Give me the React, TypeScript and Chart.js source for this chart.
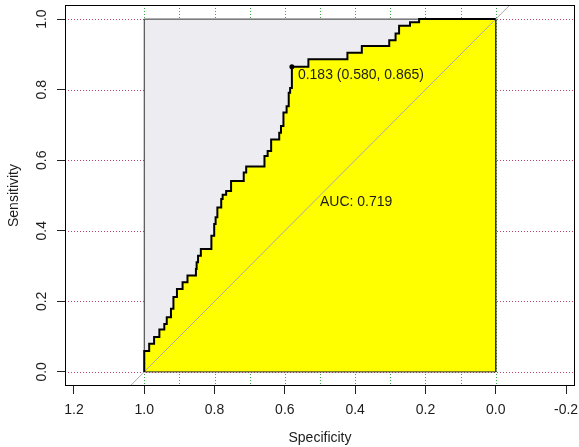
import React, { useEffect, useRef } from 'react';
import { Chart, registerables } from 'chart.js';

Chart.register(...registerables);

// ROC curve points (specificity, sensitivity); drawn as a staircase (horizontal then vertical)
const ROC_SPECIFICITY = [
  1.0, 1.0, 0.986, 0.972, 0.957, 0.943, 0.936, 0.924, 0.917, 0.907, 0.891, 0.877,
  0.853, 0.851, 0.847, 0.839, 0.809, 0.801, 0.797, 0.792, 0.781, 0.777, 0.767, 0.753,
  0.717, 0.71, 0.658, 0.649, 0.639, 0.616, 0.611, 0.604, 0.595, 0.589, 0.585, 0.58,
  0.533, 0.422, 0.381, 0.303, 0.285, 0.275, 0.244, 0.218, 0.0,
];
const ROC_SENSITIVITY = [
  0.0, 0.059, 0.08, 0.099, 0.12, 0.136, 0.155, 0.179, 0.212, 0.235, 0.254, 0.273,
  0.292, 0.311, 0.329, 0.348, 0.386, 0.419, 0.438, 0.466, 0.49, 0.502, 0.513, 0.541,
  0.565, 0.582, 0.612, 0.626, 0.659, 0.678, 0.697, 0.735, 0.753, 0.791, 0.805, 0.865,
  0.886, 0.905, 0.924, 0.94, 0.959, 0.981, 0.991, 1.0, 1.0,
];

// Max-AUC polygon (unit square)
const MAX_AUC_SPECIFICITY = [1, 1, 0, 0, 1];
const MAX_AUC_SENSITIVITY = [0, 1, 1, 0, 0];

// Best threshold
const BEST_THRESHOLD = 0.183;
const BEST_SPECIFICITY = 0.58;
const BEST_SENSITIVITY = 0.865;

const AUC_VALUE = 0.719;
const AUC_LABEL_SPECIFICITY = 0.5;
const AUC_LABEL_SENSITIVITY = 0.48;

// Axes
const X_TICKS = [1.2, 1.0, 0.8, 0.6, 0.4, 0.2, 0.0, -0.2];
const Y_TICKS = [0.0, 0.2, 0.4, 0.6, 0.8, 1.0];
const V_GRID = [1.0, 0.9, 0.8, 0.7, 0.6, 0.5, 0.4, 0.3, 0.2, 0.1, 0.0];
const H_GRID = [0.0, 0.2, 0.4, 0.6, 0.8, 1.0];
const X_MIN = -0.2255;
const X_MAX = 1.2255;
const Y_MIN = -0.04;
const Y_MAX = 1.04;

const FONT_FAMILY = '"Liberation Sans", Arial, Helvetica, sans-serif';
const TEXT_COLOR = '#1c1c1c';

export default function App() {
  const ref = useRef<HTMLCanvasElement>(null);

  useEffect(() => {
    const canvas = ref.current;
    if (!canvas) return;

    const pts = (xs: number[], ys: number[]) => xs.map((x, i) => ({ x, y: ys[i] }));

    const decor = {
      id: 'rocDecor',
      beforeDatasetsDraw(chart: any) {
        const { ctx, chartArea: a, scales } = chart;
        const xs = scales.x;
        const ys = scales.y;
        ctx.save();
        ctx.lineWidth = 1;
        ctx.setLineDash([1, 2]);
        ctx.strokeStyle = '#b8486a';
        H_GRID.forEach((v) => {
          const py = Math.round(ys.getPixelForValue(v)) + 0.5;
          ctx.beginPath();
          ctx.moveTo(a.left, py);
          ctx.lineTo(a.right, py);
          ctx.stroke();
        });
        ctx.strokeStyle = '#3fa346';
        V_GRID.forEach((v) => {
          const px = Math.round(xs.getPixelForValue(v)) + 0.5;
          ctx.beginPath();
          ctx.moveTo(px, a.top);
          ctx.lineTo(px, a.bottom);
          ctx.stroke();
        });
        ctx.restore();
      },
      afterDatasetsDraw(chart: any) {
        const { ctx, chartArea: a, scales } = chart;
        const xs = scales.x;
        const ys = scales.y;
        ctx.save();
        ctx.strokeStyle = '#000';
        ctx.lineWidth = 1;
        ctx.setLineDash([]);
        ctx.strokeRect(a.left + 0.5, a.top + 0.5, a.right - a.left - 1, a.bottom - a.top - 1);

        ctx.font = `14px ${FONT_FAMILY}`;
        ctx.fillStyle = TEXT_COLOR;
        ctx.textAlign = 'left';
        ctx.textBaseline = 'middle';
        const thrText = `${BEST_THRESHOLD.toFixed(3)} (${BEST_SPECIFICITY.toFixed(3)}, ${BEST_SENSITIVITY.toFixed(3)})`;
        ctx.fillText(
          thrText,
          xs.getPixelForValue(BEST_SPECIFICITY) + 6,
          ys.getPixelForValue(BEST_SENSITIVITY) + 8
        );
        ctx.fillText(
          `AUC: ${AUC_VALUE.toFixed(3)}`,
          xs.getPixelForValue(AUC_LABEL_SPECIFICITY),
          ys.getPixelForValue(AUC_LABEL_SENSITIVITY)
        );
        ctx.restore();
      },
    };

    const rocPoints = pts(ROC_SPECIFICITY, ROC_SENSITIVITY);
    const squarePoints = pts(MAX_AUC_SPECIFICITY, MAX_AUC_SENSITIVITY);

    const chart = new Chart(canvas, {
      type: 'scatter',
      data: {
        datasets: [
          {
            label: 'threshold',
            data: [{ x: BEST_SPECIFICITY, y: BEST_SENSITIVITY }],
            showLine: false,
            pointRadius: 2.5,
            pointBackgroundColor: '#000',
            pointBorderColor: '#000',
            pointBorderWidth: 0,
            order: 0,
          },
          {
            label: 'ROC',
            data: rocPoints,
            showLine: true,
            stepped: 'before',
            borderColor: '#000',
            borderWidth: 2,
            pointRadius: 0,
            fill: false,
            order: 1,
          },
          {
            label: 'identity',
            data: [
              { x: 1 - Y_MIN, y: Y_MIN },
              { x: 1 - Y_MAX, y: Y_MAX },
            ],
            showLine: true,
            borderColor: '#a9a9a9',
            borderWidth: 1,
            pointRadius: 0,
            fill: false,
            order: 2,
          },
          {
            label: 'maxAucBorder',
            data: squarePoints,
            showLine: true,
            borderColor: '#333',
            borderWidth: 1,
            pointRadius: 0,
            fill: false,
            order: 3,
          },
          {
            label: 'aucFill',
            data: rocPoints,
            showLine: true,
            stepped: 'before',
            borderWidth: 0,
            borderColor: 'rgba(0,0,0,0)',
            backgroundColor: '#ffff00',
            pointRadius: 0,
            fill: 'origin',
            order: 4,
          },
          {
            label: 'maxAucFill',
            data: squarePoints,
            showLine: true,
            borderWidth: 0,
            borderColor: 'rgba(0,0,0,0)',
            backgroundColor: '#ededf1',
            pointRadius: 0,
            fill: 'shape',
            order: 5,
          },
        ],
      },
      options: {
        animation: false,
        responsive: false,
        devicePixelRatio: 1,
        events: [],
        layout: { padding: { top: 5, right: 3, left: 0, bottom: 0 } },
        plugins: {
          legend: { display: false },
          tooltip: { enabled: false },
        },
        scales: {
          x: {
            type: 'linear',
            reverse: true,
            min: X_MIN,
            max: X_MAX,
            afterBuildTicks: (s: any) => {
              s.ticks = X_TICKS.map((v) => ({ value: v }));
            },
            afterFit: (s: any) => {
              s.height = 61;
              s.paddingLeft = 0;
              s.paddingRight = 0;
            },
            ticks: {
              autoSkip: false,
              maxRotation: 0,
              minRotation: 0,
              padding: 8,
              color: TEXT_COLOR,
              font: { size: 14, family: FONT_FAMILY },
              callback: (v: any) => Number(v).toFixed(1),
            },
            grid: {
              drawOnChartArea: false,
              drawTicks: true,
              tickLength: 8,
              color: '#222',
              lineWidth: 1,
            },
            border: { display: false },
            title: {
              display: true,
              text: 'Specificity',
              color: TEXT_COLOR,
              font: { size: 14, family: FONT_FAMILY },
              padding: { top: 0, bottom: 0 },
            },
          },
          y: {
            type: 'linear',
            min: Y_MIN,
            max: Y_MAX,
            afterBuildTicks: (s: any) => {
              s.ticks = Y_TICKS.map((v) => ({ value: v }));
            },
            afterFit: (s: any) => {
              s.width = 65;
              s.paddingTop = 0;
              s.paddingBottom = 0;
            },
            ticks: {
              autoSkip: false,
              minRotation: 90,
              maxRotation: 90,
              crossAlign: 'center',
              padding: 5,
              color: TEXT_COLOR,
              font: { size: 14, family: FONT_FAMILY },
              callback: (v: any) => Number(v).toFixed(1),
            },
            grid: {
              drawOnChartArea: false,
              drawTicks: true,
              tickLength: 8,
              color: '#222',
              lineWidth: 1,
            },
            border: { display: false },
            title: {
              display: true,
              text: 'Sensitivity',
              color: TEXT_COLOR,
              font: { size: 14, family: FONT_FAMILY },
              padding: { top: 6, bottom: 0 },
            },
          },
        },
      },
      plugins: [decor],
    } as any);

    return () => chart.destroy();
  }, []);

  return (
    <div style={{ position: 'absolute', left: 0, top: 0, width: 579, height: 447 }}>
      <canvas ref={ref} width={579} height={447} style={{ display: 'block', width: 579, height: 447 }} />
    </div>
  );
}
